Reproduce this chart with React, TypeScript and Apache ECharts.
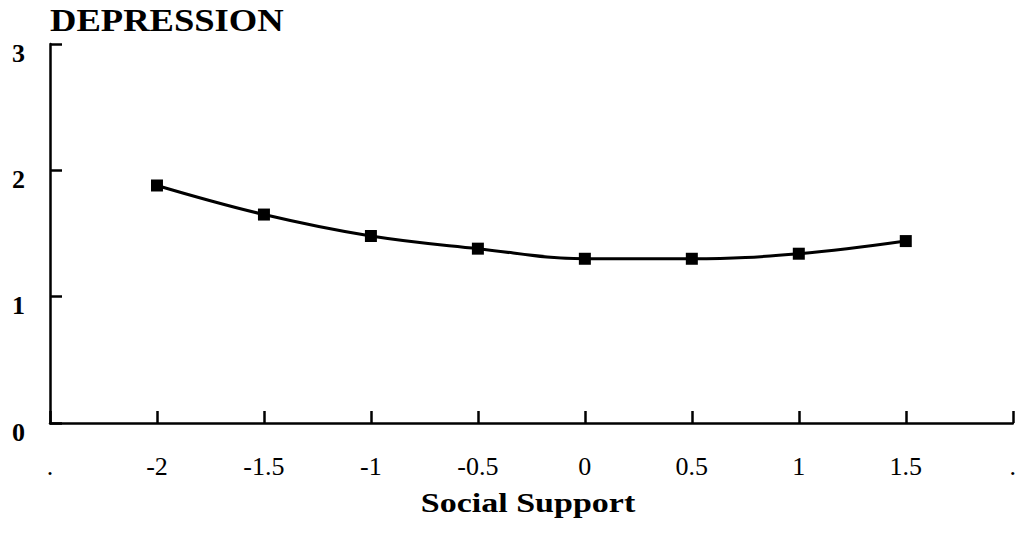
import React, { useEffect, useRef } from "react";
import * as echarts from "echarts";

const xValues = [-2, -1.5, -1, -0.5, 0, 0.5, 1, 1.5];
const depression = [1.88, 1.65, 1.48, 1.38, 1.3, 1.3, 1.34, 1.44];
const yTitle = "DEPRESSION";
const xTitle = "Social Support";

const FONT = "'Liberation Serif', 'Times New Roman', serif";

export default function App() {
  const ref = useRef<HTMLDivElement>(null);
  useEffect(() => {
    if (!ref.current) return;
    const chart = echarts.init(ref.current, null, { renderer: "svg" });
    const data = xValues.map((x, i) => [x, depression[i]]);
    chart.setOption({
      animation: false,
      backgroundColor: "#ffffff",
      grid: { left: 50, right: 4, top: 44, bottom: 117, containLabel: false },
      xAxis: {
        type: "value",
        min: -2.5,
        max: 2,
        interval: 0.5,
        axisLine: { show: true, onZero: false, lineStyle: { color: "#000", width: 2.5 } },
        axisTick: {
          show: true,
          inside: true,
          length: 12,
          lineStyle: { color: "#000", width: 2.5 },
        },
        splitLine: { show: false },
        axisLabel: {
          margin: 30,
          fontFamily: FONT,
          fontSize: 26,
          color: "#000",
          showMinLabel: true,
          showMaxLabel: true,
          formatter: (v: number) =>
            v < -2.25 || v > 1.75 ? "." : String(v),
        },
      },
      yAxis: {
        type: "value",
        min: 0,
        max: 3,
        interval: 1,
        axisLine: { show: true, onZero: false, lineStyle: { color: "#000", width: 2.5 } },
        axisTick: {
          show: true,
          inside: true,
          length: 12,
          lineStyle: { color: "#000", width: 2.5 },
        },
        splitLine: { show: false },
        axisLabel: {
          margin: 25,
          fontFamily: FONT,
          fontSize: 26,
          fontWeight: "bold",
          color: "#000",
          verticalAlign: "top",
          lineHeight: 18,
        },
      },
      graphic: [
        {
          type: "text",
          x: 50,
          y: 20,
          scaleX: 1.18,
          style: {
            text: yTitle,
            fontFamily: FONT,
            fontSize: 31,
            fontWeight: "bold",
            fill: "#000",
            textAlign: "left",
            textVerticalAlign: "middle",
          },
        },
        {
          type: "text",
          x: 528,
          y: 503,
          scaleX: 1.26,
          style: {
            text: xTitle,
            fontFamily: FONT,
            fontSize: 27,
            fontWeight: "bold",
            fill: "#000",
            textAlign: "center",
            textVerticalAlign: "middle",
          },
        },
      ],
      series: [
        {
          type: "line",
          data,
          smooth: 0.4,
          symbol: "rect",
          symbolSize: 12,
          showSymbol: true,
          lineStyle: { color: "#000", width: 3 },
          itemStyle: { color: "#000" },
        },
      ],
    });
    return () => chart.dispose();
  }, []);
  return (
    <div
      ref={ref}
      style={{ position: "fixed", left: 0, top: 0, width: 1019, height: 540, background: "#fff" }}
    />
  );
}
